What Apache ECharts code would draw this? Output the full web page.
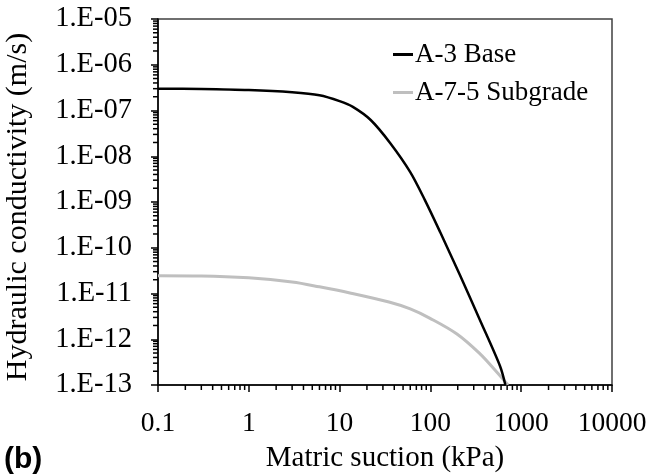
<!DOCTYPE html>
<html>
<head>
<meta charset="utf-8">
<script src="https://cdn.jsdelivr.net/npm/echarts@6/dist/echarts.min.js"></script>
<style>html,body{margin:0;padding:0;background:#fff;}#c{width:651px;height:476px;}</style>
</head>
<body>
<div id="c"></div>
<script>
// Series data: [matric suction (kPa), hydraulic conductivity (m/s)]
const a3Base = [
  [0.1, 3.0e-7], [0.3, 2.95e-7], [1, 2.8e-7], [3, 2.5e-7], [6, 2.15e-7],
  [10, 1.6e-7], [14, 1.2e-7], [22, 6.2e-8], [36, 1.95e-8], [60, 4.5e-9],
  [87, 1.1e-9], [128, 2.2e-10], [212, 2.5e-11], [352, 2.6e-12],
  [584, 2.6e-13], [670, 1e-13]
];
const a75Subgrade = [
  [0.1, 2.45e-11], [0.3, 2.42e-11], [1, 2.2e-11], [3, 1.78e-11], [6, 1.4e-11],
  [13, 1.03e-11], [35, 6.5e-12], [60, 4.6e-12], [98, 2.9e-12], [196, 1.3e-12],
  [352, 4.8e-13], [514, 2.13e-13], [716, 1e-13]
];
const seriesNames = ['A-3 Base', 'A-7-5 Subgrade'];
const xMin = 0.1, xMax = 10000;
const yMin = 1e-13, yMax = 1e-5;
const xTitle = 'Matric suction (kPa)';
const yTitle = 'Hydraulic conductivity (m/s)';

// minor tick values (2..9 within each decade)
function minorVals(lo, hi) {
  const out = [];
  for (let e = Math.round(Math.log10(lo)); e < Math.round(Math.log10(hi)); e++) {
    for (let k = 2; k <= 9; k++) out.push([k * Math.pow(10, e)]);
  }
  return out;
}
const xMinor = minorVals(xMin, xMax);
const yMinor = minorVals(yMin, yMax);

const font = 'Liberation Serif';
const chart = echarts.init(document.getElementById('c'));
chart.setOption({
  animation: false,
  backgroundColor: '#fff',
  grid: { left: 158, right: 39, top: 19, bottom: 91, show: true, borderColor: '#404040', borderWidth: 1.5, containLabel: false, outerBoundsMode: 'none' },
  legend: {
    orient: 'vertical', left: 388, top: 36, icon: 'rect', itemWidth: 20, itemHeight: 3, itemGap: 11,
    data: seriesNames,
    textStyle: { fontFamily: font, fontSize: 27, color: '#000', lineHeight: 27, padding: [0, 0, 0, -3] }
  },
  xAxis: {
    type: 'log', logBase: 10, min: xMin, max: xMax, interval: 1,
    name: xTitle, nameLocation: 'middle', nameGap: 59,
    nameTextStyle: { fontFamily: font, fontSize: 29, color: '#000' },
    axisLine: { lineStyle: { color: '#000', width: 1.5 } },
    axisTick: { show: true, length: 7, lineStyle: { color: '#000', width: 1.5 } },
    axisLabel: { margin: 25, fontFamily: font, fontSize: 27.5, color: '#000',
      formatter: v => (v < 1 ? String(+v.toPrecision(1)) : String(Math.round(v))) },
    splitLine: { show: false }
  },
  yAxis: {
    type: 'log', logBase: 10, min: yMin, max: yMax, interval: 1,
    name: yTitle, nameLocation: 'middle', nameGap: 125, nameRotate: 90,
    nameTextStyle: { fontFamily: font, fontSize: 30, color: '#000', padding: [0, 10, 0, 0] },
    axisLine: { lineStyle: { color: '#000', width: 1.5 } },
    axisTick: { show: true, length: 7, lineStyle: { color: '#000', width: 1.5 } },
    axisLabel: { margin: 26, fontFamily: font, fontSize: 28.5, color: '#000',
      formatter: v => { const e = Math.round(Math.log10(v)); const a = Math.abs(e); return '1.E' + (e < 0 ? '-' : '+') + (a < 10 ? '0' + a : a); } },
    splitLine: { show: false }
  },
  graphic: [{
    type: 'text', left: 4, top: 445,
    style: { text: '(b)', font: 'bold 30px "Liberation Sans"', fill: '#000' }
  }],
  series: [
    { name: seriesNames[0], type: 'line', data: a3Base, showSymbol: false, smooth: 0.3,
      lineStyle: { color: '#000', width: 2.5 }, itemStyle: { color: '#000' }, z: 3 },
    { name: seriesNames[1], type: 'line', data: a75Subgrade, showSymbol: false, smooth: 0.35,
      lineStyle: { color: '#bfbfbf', width: 3 }, itemStyle: { color: '#bfbfbf' }, z: 2 },
    { type: 'custom', data: xMinor, clip: false, silent: true, z: 5,
      renderItem: (params, api) => {
        const p = api.coord([api.value(0), yMin]);
        return { type: 'line', shape: { x1: p[0], y1: p[1], x2: p[0], y2: p[1] + 5 }, style: { stroke: '#000', lineWidth: 1.5 } };
      } },
    { type: 'custom', data: yMinor.map(d => [xMin, d[0]]), clip: false, silent: true, z: 5,
      encode: { x: 0, y: 1 },
      renderItem: (params, api) => {
        const p = api.coord([xMin, api.value(1)]);
        return { type: 'line', shape: { x1: p[0] - 5, y1: p[1], x2: p[0], y2: p[1] }, style: { stroke: '#000', lineWidth: 1.5 } };
      } }
  ]
});
</script>
</body>
</html>
